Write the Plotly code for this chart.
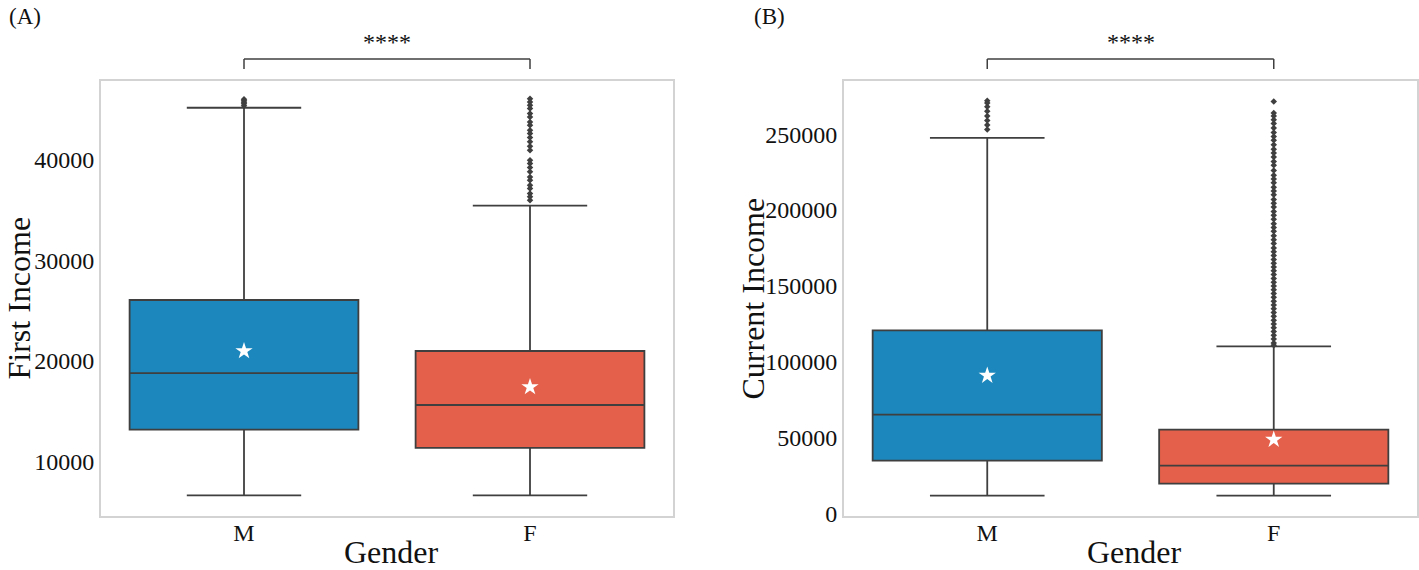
import plotly.graph_objects as go

categories = ["M", "F"]
colors = ["#1c87bc", "#e4604a"]

# Panel A: First Income
first_q1 = [13200, 11400]
first_median = [18800, 15650]
first_q3 = [26050, 21000]
first_lower = [6700, 6700]
first_upper = [45100, 35400]
first_mean = [21000, 17430]
first_out_M = [45300, 45500, 45650, 45800, 45950]
first_out_F = [46000, 45680, 45350, 45020, 44520, 44190, 43700, 43370, 42870, 42540,
               42140, 41720, 41290, 40890, 39900, 39570, 39170, 38750, 38250, 37920,
               37430, 37100, 36600, 36270, 35940]

# Panel B: Current Income
cur_q1 = [35000, 19800]
cur_median = [65300, 31700]
cur_q3 = [120800, 55400]
cur_lower = [11900, 11900]
cur_upper = [247500, 110200]
cur_mean = [91000, 48800]
cur_out_M = [253000, 256000, 259000, 262000, 265000, 268000, 270500, 272000]
cur_out_F = [271500, 264000, 262000, 259500, 257000, 254000, 251000, 248500, 246000, 243000,
             240000, 237500, 235000, 232000, 229500, 226000, 223000, 220500, 218000, 215000,
             212500, 210000, 207000, 204500, 202000, 199000, 196500, 194000, 191000, 188500,
             186000, 183000, 180500, 178000, 175000, 172500, 170000, 167500, 165000, 162500,
             160000, 157500, 155000, 152500, 150000, 147500, 145000, 142500, 140000, 137500,
             135000, 132500, 130000, 127500, 125000, 122500, 120000, 117500, 115000, 112500, 111000]

FONT = "Liberation Serif, Times New Roman, serif"
EDGE = "#3f3f3f"
TXT = "#111111"
W, H = 1419, 570
L, R, T, B = 101, 2, 81, 54
PW = W - L - R
PH = H - T - B

fig = go.Figure()

def add_panel(xa, ya, q1, med, q3, lo, hi, mean, outM, outF):
    for i, c in enumerate(categories):
        fig.add_trace(go.Box(
            x=[c], q1=[q1[i]], median=[med[i]], q3=[q3[i]],
            lowerfence=[lo[i]], upperfence=[hi[i]],
            fillcolor=colors[i], line=dict(color=EDGE, width=1.8),
            width=0.8, whiskerwidth=0.5, boxpoints=False,
            xaxis=xa, yaxis=ya, showlegend=False, hoverinfo="skip"))
    for c, out in zip(categories, [outM, outF]):
        fig.add_trace(go.Scatter(
            x=[c] * len(out), y=out, mode="markers",
            marker=dict(symbol="diamond", size=5, color=EDGE),
            xaxis=xa, yaxis=ya, showlegend=False, hoverinfo="skip"))
    fig.add_trace(go.Scatter(
        x=categories, y=mean, mode="markers",
        marker=dict(symbol="star", size=13, color="white", line=dict(width=0)),
        xaxis=xa, yaxis=ya, showlegend=False, hoverinfo="skip"))

add_panel("x", "y", first_q1, first_median, first_q3, first_lower, first_upper, first_mean,
          first_out_M, first_out_F)
add_panel("x2", "y2", cur_q1, cur_median, cur_q3, cur_lower, cur_upper, cur_mean,
          cur_out_M, cur_out_F)

axis_common = dict(showline=True, mirror=True, linecolor="#d3d3d3", linewidth=2,
                   showgrid=False, zeroline=False, ticks="", automargin=False,
                   tickfont=dict(family=FONT, size=24, color=TXT))

dA = [0, 572 / PW]
dB = [(844 - L) / PW, 1]

fig.update_layout(
    width=W, height=H,
    margin=dict(l=L, r=R, t=T, b=B, autoexpand=False),
    plot_bgcolor="white", paper_bgcolor="white",
    font=dict(family=FONT, color=TXT),
    xaxis=dict(domain=dA, type="category", categoryorder="array",
               categoryarray=categories, range=[-0.5, 1.5], ticklabelstandoff=-6,
               **axis_common),
    yaxis=dict(domain=[0, 1], range=[4650, 47750], tickvals=[10000, 20000, 30000, 40000],
               ticktext=["10000", "20000", "30000", "40000"], **axis_common),
    xaxis2=dict(domain=dB, anchor="y2", type="category", categoryorder="array",
                categoryarray=categories, range=[-0.5, 1.5], ticklabelstandoff=-6,
                **axis_common),
    yaxis2=dict(domain=[0, 1], anchor="x2", range=[-1500, 285000],
                tickvals=[0, 50000, 100000, 150000, 200000, 250000],
                ticktext=["0", "50000", "100000", "150000", "200000", "250000"],
                **axis_common),
)

def px_x(px):
    return (px - L) / PW

def px_y(py):
    return (H - B - py) / PH

# significance brackets
for xa in ["x", "x2"]:
    fig.add_shape(type="line", xref=xa, yref="paper", x0=0, x1=1, y0=px_y(59), y1=px_y(59),
                  line=dict(color=EDGE, width=1.5))
    for xv in [0, 1]:
        fig.add_shape(type="line", xref=xa, yref="paper", x0=xv, x1=xv, y0=px_y(69), y1=px_y(59),
                      line=dict(color=EDGE, width=1.5))
    fig.add_annotation(x=0.5, y=px_y(42), xref=xa, yref="paper", text="****", showarrow=False,
                       yanchor="middle", font=dict(family=FONT, size=24, color=TXT))

# panel letters
fig.add_annotation(x=px_x(25), y=px_y(16), xref="paper", yref="paper", text="(A)",
                   showarrow=False, xanchor="center", yanchor="middle",
                   font=dict(family=FONT, size=23, color=TXT))
fig.add_annotation(x=px_x(769), y=px_y(16), xref="paper", yref="paper", text="(B)",
                   showarrow=False, xanchor="center", yanchor="middle",
                   font=dict(family=FONT, size=23, color=TXT))

# axis titles
for cx in [(101 + 673) / 2 + 4, (844 + 1417) / 2 + 4]:
    fig.add_annotation(x=px_x(cx), y=px_y(552), xref="paper", yref="paper", text="Gender",
                       showarrow=False, xanchor="center", yanchor="middle",
                       font=dict(family=FONT, size=32, color=TXT))
fig.add_annotation(x=px_x(18), y=0.5, xref="paper", yref="paper", text="First Income",
                   showarrow=False, textangle=-90, xanchor="center", yanchor="middle",
                   font=dict(family=FONT, size=32, color=TXT))
fig.add_annotation(x=px_x(752), y=0.5, xref="paper", yref="paper", text="Current Income",
                   showarrow=False, textangle=-90, xanchor="center", yanchor="middle",
                   font=dict(family=FONT, size=32, color=TXT))

fig.write_html("out.html", config={"displayModeBar": False},
               post_script="document.body.style.margin='0';document.body.style.overflow='hidden';")
